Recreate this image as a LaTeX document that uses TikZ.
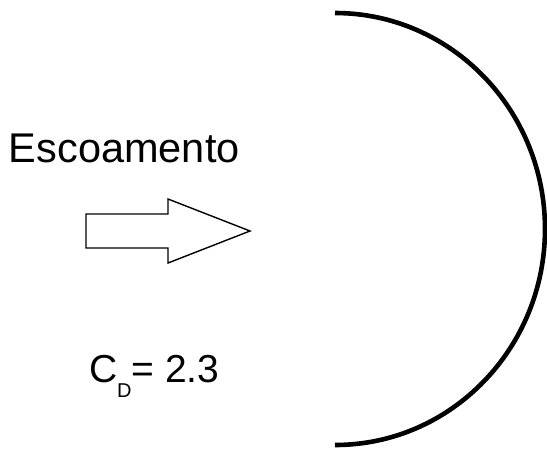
\documentclass[tikz,border=0pt]{standalone}
\usepackage{fontspec}
\setmainfont{Liberation Sans}
\begin{document}
\begin{tikzpicture}[x=1pt,y=-1pt,
  lbl/.style={inner sep=0pt,outer sep=0pt,anchor=base west,font=\fontsize{41.5}{48}\selectfont},
  cd/.style={inner sep=0pt,outer sep=0pt,anchor=base west,font=\fontsize{39}{45}\selectfont},
  flow/.style={draw=black,line width=1.4pt,fill=white,line join=miter}]
\useasboundingbox (0,0) rectangle (547,448);
\fill[white] (0,0) rectangle (547,448);
% cup (half circle)
\coordinate (top) at (335,13);
\draw[line width=4.6pt] (top) arc[start angle=-90,end angle=90,x radius=210,y radius=216];
% arrow
\draw[flow] (86,214) -- (168,214) -- (168,199) -- (250,231) -- (168,263) -- (168,248) -- (86,248) -- cycle;
\node[lbl] (esc) at (9,162) {Escoamento};
\node[cd] (cdl) at (89,382) {C\raisebox{-15pt}{\fontsize{20}{20}\selectfont D}= 2.3};
\end{tikzpicture}
\end{document}
